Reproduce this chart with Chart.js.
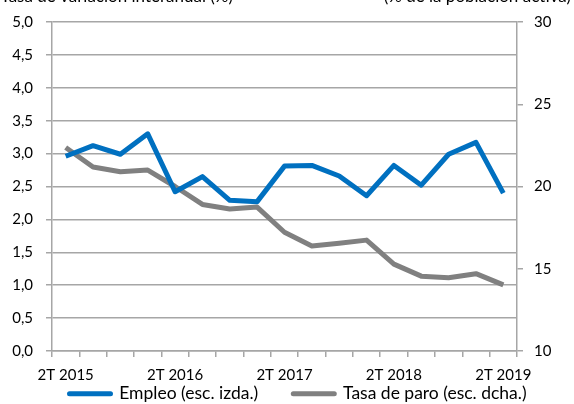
<!DOCTYPE html>
<html><head><meta charset="utf-8">
<script src="https://cdn.jsdelivr.net/npm/chart.js@4"></script>
<style>html,body{margin:0;padding:0;background:#fff}#wrap{width:574px;height:404px}</style>
</head><body><div id="wrap"><canvas id="c"></canvas></div>
<script>
const categories = ["2T 2015","3T 2015","4T 2015","1T 2016","2T 2016","3T 2016","4T 2016","1T 2017","2T 2017","3T 2017","4T 2017","1T 2018","2T 2018","3T 2018","4T 2018","1T 2019","2T 2019"];
const empleo = [2.96,3.12,2.99,3.30,2.42,2.65,2.29,2.27,2.81,2.82,2.66,2.36,2.82,2.52,2.99,3.17,2.40];
const tasaParo = [22.37,21.18,20.90,21.00,20.00,18.91,18.63,18.75,17.22,16.38,16.55,16.74,15.28,14.55,14.45,14.70,14.02];
const seriesNames = ["Empleo (esc. izda.)","Tasa de paro (esc. dcha.)"];
const topLeftText = "Tasa de variación interanual (%)";
const topRightText = "(% de la población activa)";

const FONT = "Lato, 'Open Sans', sans-serif";
const GRID = '#a6a6a6';
const BLUE = '#0070C0';
const GRAY = '#808080';
const LEG_PAD = 35;

const topText = {
  id:'topText',
  afterDraw(chart){
    const ctx = chart.ctx;
    ctx.save();
    ctx.font = '17px ' + FONT;
    ctx.fillStyle = '#000';
    ctx.textBaseline = 'alphabetic';
    ctx.textAlign = 'right';
    ctx.fillText(topLeftText, 233, 2);
    ctx.fillText(topRightText, 571, 2);
    ctx.restore();
  }
};

const legendPlace = {
  id:'legendPlace',
  afterLayout(chart){
    const lg = chart.legend;
    if (!lg || !lg.lineWidths) return;
    lg.top = 350; lg.bottom = 404; lg.height = 54;
    const cur = (lg.left + LEG_PAD + lg.right - lg.lineWidths[0]) / 2;
    const shift = 69.5 - cur;
    lg.left += shift; lg.right += shift;
  }
};

new Chart(document.getElementById('c'), {
  type:'line',
  data:{
    labels: categories,
    datasets:[
      {label: seriesNames[0], data: empleo, yAxisID:'y', borderColor: BLUE, backgroundColor: BLUE, borderWidth:5, pointRadius:0, tension:0, borderJoinStyle:'round'},
      {label: seriesNames[1], data: tasaParo, yAxisID:'y1', borderColor: GRAY, backgroundColor: GRAY, borderWidth:5, pointRadius:0, tension:0, borderJoinStyle:'round'}
    ]
  },
  options:{
    responsive:true, maintainAspectRatio:false, animation:false,
    layout:{padding:{top:19, left:0, right:0, bottom:0}},
    font:{family:FONT},
    plugins:{
      tooltip:{enabled:false},
      legend:{
        position:'bottom', maxHeight:20,
        labels:{
          font:{family:FONT, size:17.5}, color:'#000',
          usePointStyle:true, pointStyleWidth:41, boxHeight:5, padding:LEG_PAD,
          generateLabels(chart){
            return chart.data.datasets.map((d,i)=>({text:d.label, fillStyle:d.borderColor, strokeStyle:d.borderColor, lineWidth:5, lineCap:'round', pointStyle:'line', datasetIndex:i, fontColor:'#000'}));
          }
        }
      }
    },
    scales:{
      x:{
        offset:true,
        grid:{offset:true, drawOnChartArea:false, drawTicks:true, tickLength:6, color:GRID, lineWidth:1.5},
        border:{display:true, color:GRID, width:1.5},
        ticks:{autoSkip:false, maxRotation:0, color:'#000', font:{family:FONT, size:15}, padding:9,
          callback(v,i){ return i%4===0 ? categories[i] : ''; }},
        afterFit(s){ s.height = 33; }
      },
      y:{
        position:'left', min:0, max:5,
        grid:{color:GRID, lineWidth:1.5, tickLength:6},
        border:{display:true, color:GRID, width:1.5},
        ticks:{stepSize:0.5, color:'#000', font:{family:FONT, size:15}, padding:13,
          callback(v){ return v.toFixed(1).replace('.',','); }},
        afterFit(s){ s.width = 52; }
      },
      y1:{
        position:'right', min:10, max:30,
        grid:{drawOnChartArea:false, color:GRID, lineWidth:1.5, tickLength:6},
        border:{display:true, color:GRID, width:1.5},
        ticks:{stepSize:5, color:'#000', font:{family:FONT, size:15}, padding:11},
        afterFit(s){ s.width = 57; }
      }
    }
  },
  plugins:[topText, legendPlace]
});
</script>
</body></html>
